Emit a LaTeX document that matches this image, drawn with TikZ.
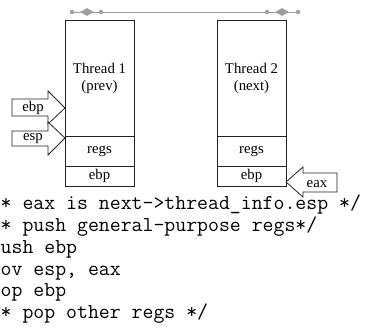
\documentclass[tikz,border=0pt]{standalone}
\usepackage{fontspec}
\setmainfont{Liberation Serif}
\usetikzlibrary{positioning,shapes.geometric}
\definecolor{ink}{HTML}{222222}
\definecolor{handle}{HTML}{A0A0A0}
\tikzset{
  cell/.style={draw=ink, line width=0.8pt, outer sep=0pt, inner sep=0pt, minimum width=69pt, align=center, font=\fontsize{14.8}{17}\selectfont},
  blk/.style={draw=ink, fill=white, line width=0.8pt, line join=miter},
  lab/.style={inner sep=0pt, font=\fontsize{14.8}{17}\selectfont},
  code/.style={anchor=base west, inner sep=0pt, font=\fontsize{21.2}{21.7}\selectfont\ttfamily},
  hdot/.style={circle, fill=handle, inner sep=0pt, minimum size=4.5pt},
  hdia/.style={diamond, fill=handle, inner sep=0pt, minimum width=14pt, minimum height=8pt},
}

\begin{document}
\begin{tikzpicture}[x=1pt, y=-1pt]
  \useasboundingbox (0,0) rectangle (367,328);
  % selection handles on top
  \node[hdot] (h1) at (72,12) {};
  \node[hdia] (h2) at (87,12) {};
  \node[hdot] (h3) at (101,12) {};
  \node[hdot] (h4) at (267,12) {};
  \node[hdia] (h5) at (282,12) {};
  \node[hdot] (h6) at (298,12) {};
  \draw[handle, line width=0.9pt] (h1) -- (h6);
  % thread stacks
  \node[cell, anchor=north west, minimum height=116pt] (t1) at (65,20) {Thread 1\\(prev)};
  \node[cell, below=0pt of t1, minimum height=30pt] (t1r) {regs};
  \node[cell, below=0pt of t1r, minimum height=20pt] (t1e) {ebp};
  \node[cell, right=83pt of t1, minimum height=116pt] (t2) {Thread 2\\(next)};
  \node[cell, below=0pt of t2, minimum height=30pt] (t2r) {regs};
  \node[cell, below=0pt of t2r, minimum height=20pt] (t2e) {ebp};
  % block arrows
  \coordinate (ebptip) at (65,108);
  \coordinate (esptip) at (65,138);
  \coordinate (eaxtip) at (286,182);
  \draw[blk] (ebptip) -- ++(-17,-17) -- ++(0,8) -- ++(-36,0) -- ++(0,17) -- ++(36,0) -- ++(0,8) -- cycle;
  \draw[blk] (esptip) -- ++(-17,-16) -- ++(0,9) -- ++(-36,0) -- ++(0,15) -- ++(36,0) -- ++(0,9) -- cycle;
  \draw[blk] (eaxtip) -- ++(17,-15) -- ++(0,6) -- ++(34,0) -- ++(0,19) -- ++(-34,0) -- ++(0,5) -- cycle;
  \node[lab] (ebpl) at (33,108) {ebp};
  \node[lab] (espl) at (33,139) {esp};
  \node[lab] (eaxl) at (317,184) {eax};
  % code
  \foreach \t [count=\i] in {{* eax is next->thread\_info.esp */},{* push general-purpose regs*/},{ush ebp},{ov esp, eax},{op ebp},{* pop other regs */}}
    \node[code] (code\i) at (0.5,{210+21.7*(\i-1)}) {\t};
\end{tikzpicture}
\end{document}
